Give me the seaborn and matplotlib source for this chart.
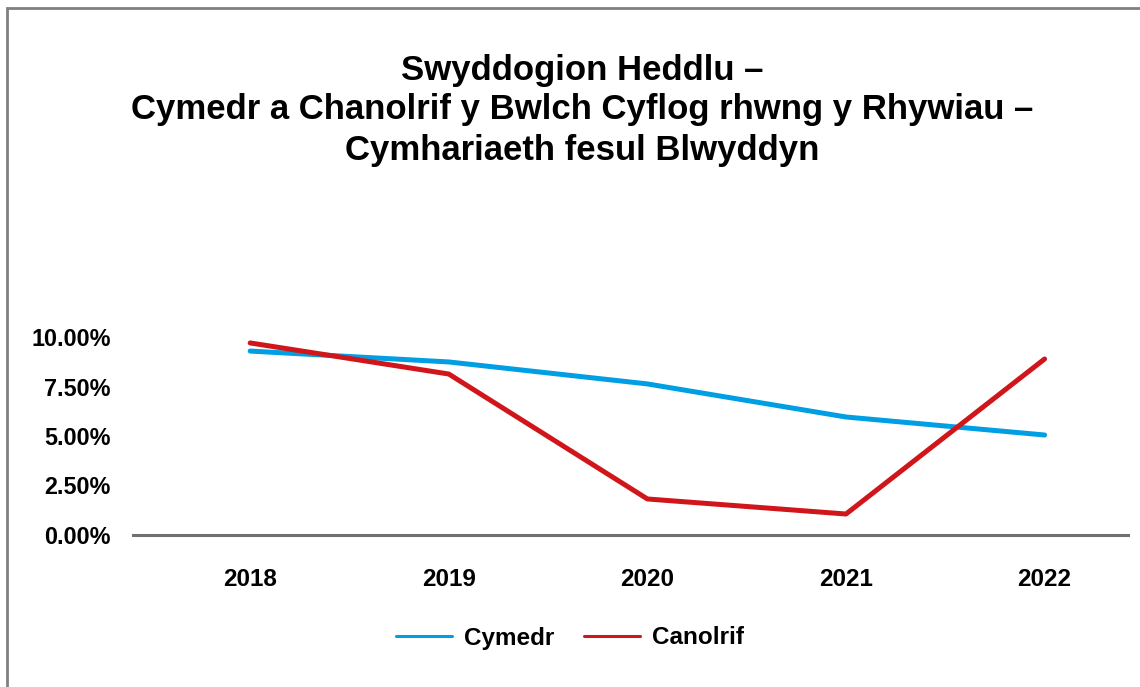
import pandas as pd
import matplotlib.pyplot as plt
import seaborn as sns
from matplotlib.patches import Rectangle
from matplotlib.ticker import FuncFormatter

# Data (percent)
years = ["2018", "2019", "2020", "2021", "2022"]
cymedr = [9.29, 8.74, 7.63, 5.96, 5.05]
canolrif = [9.70, 8.13, 1.82, 1.06, 8.89]
series_names = ["Cymedr", "Canolrif"]
title_lines = ["Swyddogion Heddlu –",
               "Cymedr a Chanolrif y Bwlch Cyflog rhwng y Rhywiau –",
               "Cymhariaeth fesul Blwyddyn"]

df = pd.DataFrame({
    "Blwyddyn": years * 2,
    "Gwerth": cymedr + canolrif,
    "Cyfres": [series_names[0]] * len(years) + [series_names[1]] * len(years),
})

sns.set_style("white")
plt.rcParams["font.family"] = ["Liberation Sans", "DejaVu Sans"]
plt.rcParams["text.color"] = "black"
plt.rcParams["xtick.color"] = "black"
plt.rcParams["ytick.color"] = "black"

fig = plt.figure(figsize=(11.4, 6.87), dpi=100)
ax = fig.add_axes([133 / 1140, 1 - 535 / 687, (1128 - 133) / 1140, (535 - 337) / 687])

sns.lineplot(data=df, x="Blwyddyn", y="Gwerth", hue="Cyfres",
             palette=["#009FE3", "#D0161B"], linewidth=3.6, ax=ax,
             sort=False)

ax.set_ylim(0, 10)
ax.set_xlim(-0.59, 4.42)
ax.set_yticks([0, 2.5, 5, 7.5, 10])
ax.yaxis.set_major_formatter(FuncFormatter(lambda v, p: f"{v:.2f}%"))
ax.set_xlabel("")
ax.set_ylabel("")
for s in ["top", "right", "left"]:
    ax.spines[s].set_visible(False)
ax.spines["bottom"].set_color("#707070")
ax.spines["bottom"].set_linewidth(2.2)
ax.tick_params(axis="y", length=0, pad=16, labelsize=16.8)
ax.tick_params(axis="x", length=0, pad=24, labelsize=17.5)
for lbl in ax.get_xticklabels() + ax.get_yticklabels():
    lbl.set_fontweight("bold")
for ln in ax.lines:
    ln.set_clip_on(False)

leg = ax.legend(loc="center", bbox_to_anchor=(570 / 1140, 1 - 638 / 687),
                bbox_transform=fig.transFigure, ncol=2, frameon=False,
                prop={"weight": "bold", "size": 17.5}, handlelength=2.3,
                columnspacing=1.2, handletextpad=0.5)
for h in leg.get_lines():
    h.set_linewidth(2.2)

# title, one line at a time (third line sits a little lower)
for txt, base in zip(title_lines, [80, 119, 160]):
    fig.text(582 / 1140, 1 - base / 687, txt, ha="center", va="baseline",
             fontsize=25, fontweight="bold")

# outer chart frame (cropped on the right and bottom)
fig.patches.append(Rectangle((7 / 1140, -0.1), 1.2, 1.1 - 8 / 687,
                             transform=fig.transFigure, fill=False,
                             edgecolor="#808080", linewidth=2))

fig.savefig("out.png", dpi=100)
